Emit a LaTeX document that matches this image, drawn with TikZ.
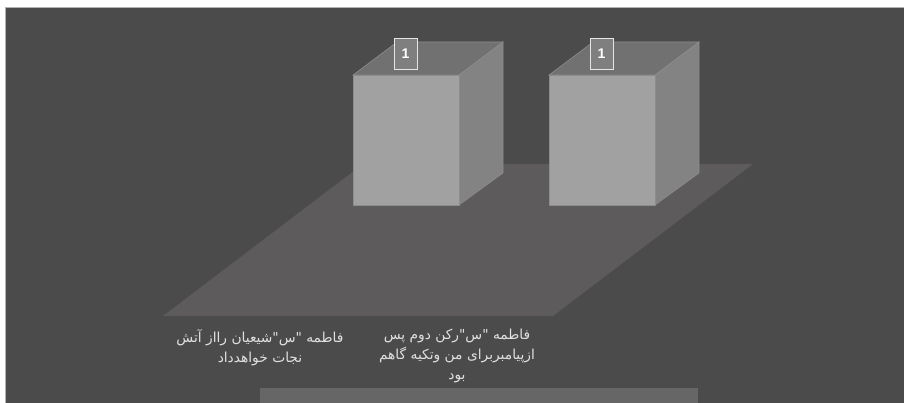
\documentclass[tikz,border=0pt]{standalone}
\usepackage{fontspec}
\newfontfamily\arabicfont[Script=Arabic]{DejaVu Sans}
\setsansfont{Liberation Sans}
\TeXXeTstate=1

\definecolor{backdrop}{HTML}{4B4B4B}
\definecolor{floorgray}{HTML}{5D5B5C}
\definecolor{frontgray}{HTML}{A1A1A1}
\definecolor{sidegray}{HTML}{838383}
\definecolor{topgray}{HTML}{717171}
\definecolor{edgegray}{HTML}{8C8C8C}
\definecolor{captiongray}{HTML}{E0E0E0}
\definecolor{stripgray}{HTML}{666666}

\begin{document}
\begin{tikzpicture}[x=1pt, y=-1pt,
    face/.style={draw=edgegray, line width=0.6pt},
    tag/.style={draw=white!80!gray, line width=1pt, fill=topgray!90!white,
        minimum width=23pt, minimum height=31pt, inner sep=0pt,
        text=white, font=\sffamily\bfseries\fontsize{14}{14}\selectfont},
    caption/.style={text=captiongray, align=center, anchor=north, inner sep=0pt,
        font=\arabicfont\fontsize{13.8}{20}\selectfont}]
                \useasboundingbox (0,0) rectangle (904,403);
                % Backdrop and floor:
                \fill[white] (0,0) rectangle (904,403);
                \fill[backdrop] (5,7) rectangle (904,403);
                \draw[gray!60, line width=0.8pt] (5,403) |- (904,7);
                \fill[floorgray] (163,316) -- (553,316) -- (753,164) -- (363,164) -- cycle;
                \fill[stripgray] (260,388) rectangle (698,403);
                % Boxes with their tags:
                \foreach \x/\i in {353/1, 549/2} {
                    \filldraw[face, fill=topgray] (\x,75) -- (\x+106,75) -- (\x+150,42) -- (\x+44,42) -- cycle;
                    \filldraw[face, fill=sidegray] (\x+106,75) -- (\x+150,42) -- (\x+150,173) -- (\x+106,205) -- cycle;
                    \filldraw[face, fill=frontgray] (\x,75) rectangle (\x+106,205);
                    \node[tag] (tag\i) at (\x+52.5,54) {1};
                }
                % Captions:
                \node[caption] (leftcap) at (260,329) {\beginR فاطمه "س"شیعیان رااز آتش\endR\\\beginR نجات خواهدداد\endR};
                \node[caption] (rightcap) at (457,329) {\beginR فاطمه "س"رکن دوم  پس\endR\\\beginR ازپیامبربرای من وتکیه گاهم\endR\\\beginR بود\endR};
            \end{tikzpicture}
\end{document}
